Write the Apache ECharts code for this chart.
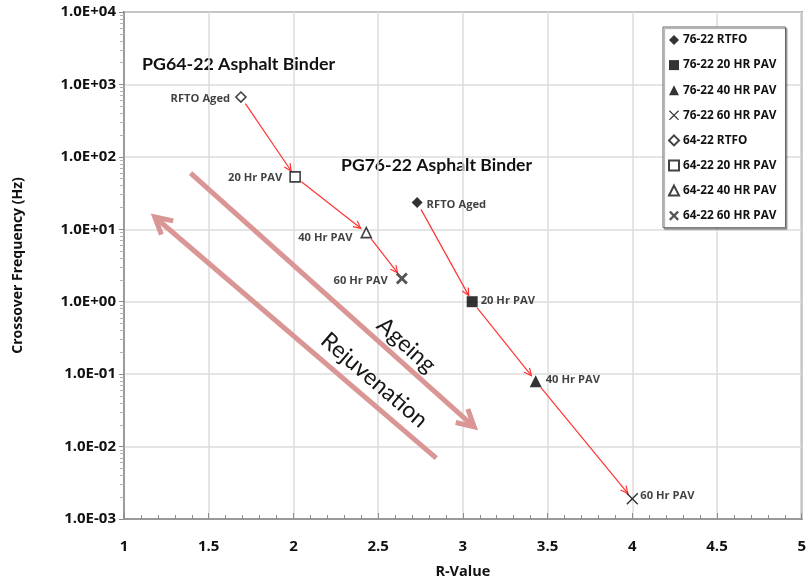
<!DOCTYPE html>
<html>
<head>
<meta charset="utf-8">
<script src="https://cdn.jsdelivr.net/npm/echarts@6/dist/echarts.min.js"></script>
<style>html,body{margin:0;padding:0;background:#fff}#c{width:809px;height:586px}</style>
</head>
<body>
<div id="c"></div>
<script>
// ---- data ----
const stageNames = ['RTFO', '20 HR PAV', '40 HR PAV', '60 HR PAV'];
const pointLabels = ['RFTO Aged', '20 Hr PAV', '40 Hr PAV', '60 Hr PAV'];
const rValue6422 = [1.69, 2.01, 2.43, 2.64];
const freq6422 = [670, 53, 9.0, 2.1];
const rValue7622 = [2.73, 3.055, 3.43, 4.0];
const freq7622 = [23.5, 1.0, 0.080, 0.0019];
const xTicks = [1, 1.5, 2, 2.5, 3, 3.5, 4, 4.5, 5];
const yRange = [0.001, 10000];
// trend arrows (annotation): [fromR, fromF, toR, toF, textR, textF]
const trendText = ['Ageing', 'Rejuvenation'];
const trendArrows = [
  [1.393, 59.7, 3.067, 0.0187, 2.666, 0.252],
  [2.843, 0.00692, 1.181, 14.8, 2.477, 0.0826]
];

// ---- styles ----
const FONT = 'Lato';
const AFONT = 'Open Sans';
const XPATH_THIN = 'path://M0,1 L1,0 L6,5 L11,0 L12,1 L7,6 L12,11 L11,12 L6,7 L1,12 L0,11 L5,6 Z';
const XPATH_BOLD = 'path://M0,2 L2,0 L6,4 L10,0 L12,2 L8,6 L12,10 L10,12 L6,8 L2,12 L0,10 L4,6 Z';
const sym7622 = [['diamond', 11], ['rect', 11], ['triangle', 12], [XPATH_THIN, 12]];
const sym6422 = [['diamond', 10], ['rect', 10], ['triangle', 10], [XPATH_BOLD, 12]];
const lab6422 = [{d: 5, oy: 2}, {d: 7, oy: 1}, {d: 8, oy: 5}, {d: 8, oy: 2}];
const lab7622 = [{d: 4, oy: 2}, {d: 3, oy: -1}, {d: 4, oy: -1}, {d: 2, oy: -3}];

function sci(v) {
  const e = Math.round(Math.log10(v));
  const m = v / Math.pow(10, e);
  return m.toFixed(1) + 'E' + (e < 0 ? '-' : '+') + String(Math.abs(e)).padStart(2, '0');
}

const labelStyle = {fontFamily: AFONT, fontWeight: 'bold', fontSize: 11.2, color: '#111'};

const series = [];
const legendNames = [];
stageNames.forEach((s, i) => {
  const name = '76-22 ' + s;
  legendNames.push(name);
  series.push({
    name, type: 'scatter', symbol: sym7622[i][0], symbolSize: sym7622[i][1],
    itemStyle: {color: '#000'},
    label: Object.assign({show: true, position: 'right', distance: lab7622[i].d, offset: [0, lab7622[i].oy],
      formatter: pointLabels[i]}, labelStyle),
    data: [[rValue7622[i], freq7622[i]]], z: 5
  });
});
stageNames.forEach((s, i) => {
  const name = '64-22 ' + s;
  legendNames.push(name);
  const hollow = i < 3;
  series.push({
    name, type: 'scatter', symbol: sym6422[i][0], symbolSize: sym6422[i][1],
    itemStyle: hollow ? {color: '#fff', borderColor: '#111', borderWidth: 1.6} : {color: '#2a2a2a'},
    label: Object.assign({show: true, position: 'left', distance: lab6422[i].d, offset: [0, lab6422[i].oy],
      formatter: pointLabels[i]}, labelStyle),
    data: [[rValue6422[i], freq6422[i]]], z: 5
  });
});

// red step arrows
const stepData = [];
[[rValue6422, freq6422], [rValue7622, freq7622]].forEach(([r, f]) => {
  for (let i = 0; i < r.length - 1; i++) stepData.push([r[i], f[i], r[i + 1], f[i + 1]]);
});
function headPts(e, ux, uy, len, half) {
  const ang = Math.atan2(uy, ux);
  return [
    [e[0] - len * Math.cos(ang - half), e[1] - len * Math.sin(ang - half)],
    e,
    [e[0] - len * Math.cos(ang + half), e[1] - len * Math.sin(ang + half)]
  ];
}
series.push({
  type: 'custom', name: 'steps', silent: true, z: 4, clip: false,
  dimensions: ['x1', 'y1', 'x2', 'y2'], encode: {x: [0, 2], y: [1, 3]},
  data: stepData,
  renderItem(params, api) {
    const p1 = api.coord([api.value(0), api.value(1)]);
    const p2 = api.coord([api.value(2), api.value(3)]);
    const dx = p2[0] - p1[0], dy = p2[1] - p1[1], L = Math.hypot(dx, dy);
    const ux = dx / L, uy = dy / L;
    const s = [p1[0] + ux * 8, p1[1] + uy * 8];
    const e = [p2[0] - ux * 7, p2[1] - uy * 7];
    return {type: 'group', children: [
      {type: 'line', shape: {x1: s[0], y1: s[1], x2: e[0], y2: e[1]}, style: {stroke: '#ff3333', lineWidth: 1.2}},
      {type: 'polyline', shape: {points: headPts(e, ux, uy, 8, 0.45)}, style: {stroke: '#ff3333', lineWidth: 1.2, fill: null}}
    ]};
  }
});
// big trend arrows
series.push({
  type: 'custom', name: 'trend', silent: true, z: 3, clip: false,
  dimensions: ['x1', 'y1', 'x2', 'y2', 'tx', 'ty'], encode: {x: [0, 2], y: [1, 3]},
  data: trendArrows,
  renderItem(params, api) {
    const p1 = api.coord([api.value(0), api.value(1)]);
    const p2 = api.coord([api.value(2), api.value(3)]);
    const pt = api.coord([api.value(4), api.value(5)]);
    const dx = p2[0] - p1[0], dy = p2[1] - p1[1], L = Math.hypot(dx, dy);
    const ux = dx / L, uy = dy / L;
    let rot = Math.atan2(uy, ux);
    if (ux < 0) rot += Math.PI;
    const col = '#d99694';
    return {type: 'group', children: [
      {type: 'line', shape: {x1: p1[0], y1: p1[1], x2: p2[0] - ux * 2, y2: p2[1] - uy * 2}, style: {stroke: col, lineWidth: 5}},
      {type: 'polyline', shape: {points: headPts(p2, ux, uy, 19, 0.5)}, style: {stroke: col, lineWidth: 5, fill: null, lineJoin: 'miter'}},
      {type: 'text', x: pt[0], y: pt[1], rotation: -rot,
        style: {text: trendText[params.dataIndex], fontFamily: FONT, fontSize: 23, fill: '#151515', align: 'center', verticalAlign: 'middle'}}
    ]};
  }
});

const chart = echarts.init(document.getElementById('c'), null, {renderer: 'canvas'});
chart.setOption({
  animation: false,
  backgroundColor: '#fff',
  grid: {left: 124, top: 12, right: 6, bottom: 67, show: true, borderColor: '#808080', borderWidth: 2},
  legend: {
    data: legendNames, orient: 'vertical', left: 663, top: 27,
    itemWidth: 10, itemHeight: 10, itemGap: 11.1,
    padding: [6, 9, 5, 5], borderColor: '#666', borderWidth: 1, backgroundColor: '#fff',
    shadowColor: 'rgba(0,0,0,0.35)', shadowOffsetX: 1.5, shadowOffsetY: 1.5, shadowBlur: 1,
    textStyle: {fontFamily: AFONT, fontWeight: 'bold', fontSize: 11.8, lineHeight: 14, color: '#111', padding: [0, 0, 0, -1]}
  },
  xAxis: {
    type: 'value', min: xTicks[0], max: xTicks[xTicks.length - 1], interval: xTicks[1] - xTicks[0],
    name: 'R-Value', nameLocation: 'middle', nameGap: 45,
    nameTextStyle: {fontFamily: AFONT, fontWeight: 'bold', fontSize: 14.5, color: '#111'},
    axisLine: {lineStyle: {color: '#8c8c8c', width: 1.5}},
    axisTick: {inside: true, length: 6, lineStyle: {color: '#8c8c8c'}},
    minorTick: {show: true, splitNumber: 5, length: 4, lineStyle: {color: '#8c8c8c'}},
    axisLabel: {margin: 20, fontFamily: AFONT, fontWeight: 'bold', fontSize: 15, color: '#111'},
    splitLine: {lineStyle: {color: '#dcdcdc', width: 1.5}}
  },
  yAxis: {
    type: 'log', logBase: 10, min: yRange[0], max: yRange[1], interval: 1,
    name: 'Crossover Frequency (Hz)', nameLocation: 'middle', nameGap: 99,
    nameTextStyle: {fontFamily: AFONT, fontWeight: 'bold', fontSize: 14, color: '#111'},
    axisLine: {show: true, lineStyle: {color: '#8c8c8c', width: 1.5}},
    axisTick: {show: true, length: 5, lineStyle: {color: '#8c8c8c'}},
    minorTick: {show: true, splitNumber: 9, length: 4, lineStyle: {color: '#b0b0b0'}},
    axisLabel: {margin: 8, fontFamily: AFONT, fontWeight: 'bold', fontSize: 15, color: '#111', formatter: sci},
    splitLine: {lineStyle: {color: '#dcdcdc', width: 1.5}}
  },
  graphic: [
    {type: 'text', x: 142, y: 64, style: {text: 'PG64-22 Asphalt Binder', fontFamily: FONT, fontWeight: 'bold', fontSize: 17.8, fill: '#111', verticalAlign: 'middle'}},
    {type: 'text', x: 341, y: 165, style: {text: 'PG76-22 Asphalt Binder', fontFamily: FONT, fontWeight: 'bold', fontSize: 17.6, fill: '#111', verticalAlign: 'middle'}}
  ],
  series
});
</script>
</body>
</html>
